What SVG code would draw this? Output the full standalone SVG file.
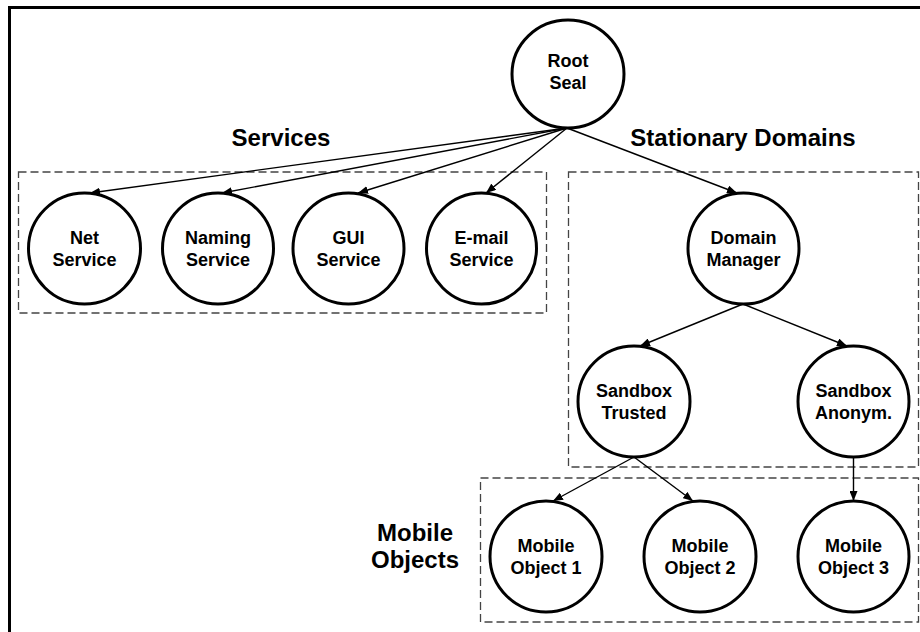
<svg xmlns="http://www.w3.org/2000/svg" width="920" height="632" viewBox="0 0 920 632">
<style>
.node{fill:#fff;stroke:#000;stroke-width:3}
.nt{font-family:"Liberation Sans",Arial,sans-serif;font-weight:bold;font-size:18px;text-anchor:middle;fill:#000}
.lbl{font-family:"Liberation Sans",Arial,sans-serif;font-weight:bold;font-size:24px;text-anchor:middle;fill:#000}
.grp{fill:none;stroke:#444;stroke-width:1.3;stroke-dasharray:8 4}
.edge{fill:none;stroke:#000;stroke-width:1.4;marker-end:url(#arr)}
</style>
<defs>
<marker id="arr" markerUnits="userSpaceOnUse" markerWidth="11" markerHeight="8" refX="10" refY="4" orient="auto">
<path d="M0,0 L10,4 L0,8 z" fill="#000"/>
</marker>
</defs>
<rect width="920" height="632" fill="#fff"/>
<path d="M9.5,632 V7.5 H920" fill="none" stroke="#000" stroke-width="3"/>
<g id="groups">
<rect class="grp" x="18.5" y="172" width="528" height="141"/>
<rect class="grp" x="568.5" y="172" width="350" height="295"/>
<rect class="grp" x="480.5" y="478" width="438" height="144"/>
</g>
<g id="labels">
<text class="lbl" x="281" y="146">Services</text>
<text class="lbl" x="743" y="146">Stationary Domains</text>
<text class="lbl" x="415" y="541">Mobile</text>
<text class="lbl" x="415" y="568">Objects</text>
</g>
<g id="connectors">
<line class="edge" x1="567" y1="128" x2="90" y2="193"/>
<line class="edge" x1="567" y1="128" x2="222" y2="193"/>
<line class="edge" x1="567" y1="128" x2="358" y2="193"/>
<line class="edge" x1="567" y1="128" x2="486" y2="193"/>
<line class="edge" x1="567" y1="128" x2="737" y2="193"/>
<line class="edge" x1="743" y1="304" x2="640" y2="346"/>
<line class="edge" x1="743" y1="304" x2="847" y2="346"/>
<line class="edge" x1="634" y1="457" x2="553" y2="501"/>
<line class="edge" x1="634" y1="457" x2="693" y2="501"/>
<line class="edge" x1="853.5" y1="457" x2="853.5" y2="501"/>
</g>
<g id="root"><ellipse class="node" cx="568" cy="74" rx="56" ry="54"/><text class="nt" x="568" y="67">Root</text><text class="nt" x="568" y="89">Seal</text></g>
<g id="net"><ellipse class="node" cx="84.5" cy="248.5" rx="56" ry="55.5"/><text class="nt" x="84.5" y="244">Net</text><text class="nt" x="84.5" y="265.5">Service</text></g>
<g id="naming"><ellipse class="node" cx="218" cy="248.5" rx="55.5" ry="55.5"/><text class="nt" x="218" y="244">Naming</text><text class="nt" x="218" y="265.5">Service</text></g>
<g id="gui"><ellipse class="node" cx="348.5" cy="248.5" rx="55.5" ry="55.5"/><text class="nt" x="348.5" y="244">GUI</text><text class="nt" x="348.5" y="265.5">Service</text></g>
<g id="email"><ellipse class="node" cx="481.5" cy="248.5" rx="55" ry="55.5"/><text class="nt" x="481.5" y="244">E-mail</text><text class="nt" x="481.5" y="265.5">Service</text></g>
<g id="domain"><ellipse class="node" cx="743.5" cy="248.5" rx="55.5" ry="55.5"/><text class="nt" x="743.5" y="244">Domain</text><text class="nt" x="743.5" y="265.5">Manager</text></g>
<g id="trusted"><ellipse class="node" cx="634" cy="401.5" rx="56" ry="55.5"/><text class="nt" x="634" y="397">Sandbox</text><text class="nt" x="634" y="418.5">Trusted</text></g>
<g id="anonym"><ellipse class="node" cx="853.5" cy="401.5" rx="55.5" ry="55.5"/><text class="nt" x="853.5" y="397">Sandbox</text><text class="nt" x="853.5" y="418.5">Anonym.</text></g>
<g id="mobile1"><ellipse class="node" cx="546" cy="556.5" rx="56" ry="55.5"/><text class="nt" x="546" y="552">Mobile</text><text class="nt" x="546" y="573.5">Object 1</text></g>
<g id="mobile2"><ellipse class="node" cx="700" cy="556.5" rx="56" ry="55.5"/><text class="nt" x="700" y="552">Mobile</text><text class="nt" x="700" y="573.5">Object 2</text></g>
<g id="mobile3"><ellipse class="node" cx="853.5" cy="556.5" rx="55.5" ry="55.5"/><text class="nt" x="853.5" y="552">Mobile</text><text class="nt" x="853.5" y="573.5">Object 3</text></g>
</svg>
